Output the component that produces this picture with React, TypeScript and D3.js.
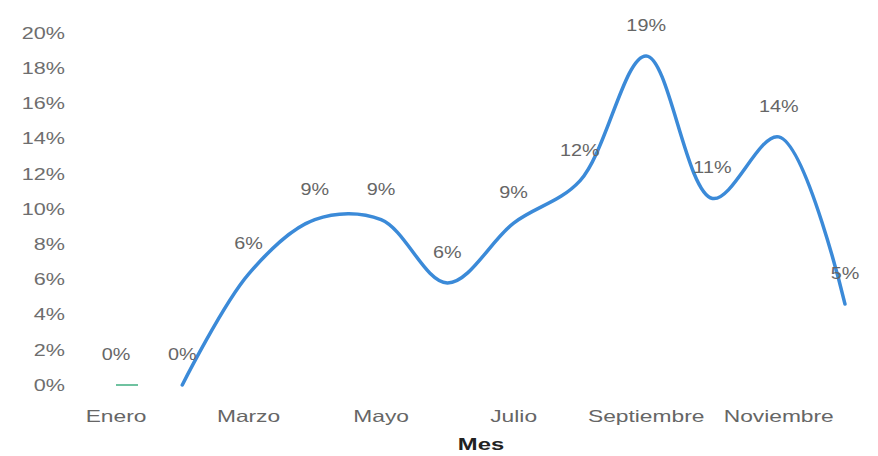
import React from "react";
import * as d3 from "d3";

const months = ["Enero", "Febrero", "Marzo", "Abril", "Mayo", "Junio", "Julio", "Agosto", "Septiembre", "Octubre", "Noviembre", "Diciembre"];
const values = [0, 0, 6.3, 9.4, 9.4, 5.8, 9.2, 11.6, 18.7, 10.6, 14.1, 4.6];
const labels = ["0%", "0%", "6%", "9%", "9%", "6%", "9%", "12%", "19%", "11%", "14%", "5%"];
const yTicks = [0, 2, 4, 6, 8, 10, 12, 14, 16, 18, 20];
const shownMonths = ["Enero", "Marzo", "Mayo", "Julio", "Septiembre", "Noviembre"];

function SText(props: { x: number; y: number; sx: number; anchor: string; size: number; fill: string; weight?: string; dy?: string; children: React.ReactNode }) {
  return (
    <text
      transform={`translate(${props.x},${props.y}) scale(${props.sx},1)`}
      dy={props.dy}
      textAnchor={props.anchor}
      fontSize={props.size}
      fontWeight={props.weight || "normal"}
      fill={props.fill}
      fontFamily="'Liberation Sans', Arial, sans-serif"
    >
      {props.children}
    </text>
  );
}

export default function App() {
  const W = 878, H = 456;
  const x = d3.scalePoint<string>().domain(months).range([116, 845]);
  const y = d3.scaleLinear().domain([0, 20]).range([385, 33]);
  const pts = months.map((m, i) => [x(m) as number, y(values[i])] as [number, number]);
  const line = d3.line().curve(d3.curveCatmullRom.alpha(0.5));
  const d = line(pts.slice(1)) || "";
  return (
    <svg width={W} height={H} style={{ position: "absolute", left: 0, top: 0 }}>
      <rect width={W} height={H} fill="#fff" />
      {yTicks.map((t) => (
        <SText key={t} x={65} y={y(t)} dy="0.36em" anchor="end" size={16} sx={1.35} fill="#6e6e6e">
          {t}%
        </SText>
      ))}
      {shownMonths.map((m) => (
        <SText key={m} x={x(m) as number} y={422} anchor="middle" size={16.5} sx={1.38} fill="#666">
          {m}
        </SText>
      ))}
      <SText x={481} y={450} anchor="middle" size={17} sx={1.4} weight="bold" fill="#222">
        Mes
      </SText>
      <line x1={x("Enero")} x2={(x("Enero") as number) + 22} y1={y(0)} y2={y(0)} stroke="#6fc2a0" strokeWidth={2} />
      <path d={d} fill="none" stroke="#3b8ad8" strokeWidth={3.5} strokeLinecap="round" />
      {months.map((m, i) => (
        <SText key={m} x={x(m) as number} y={y(values[i]) - 31} dy="0.36em" anchor="middle" size={16.5} sx={1.2} fill="#666">
          {labels[i]}
        </SText>
      ))}
    </svg>
  );
}
